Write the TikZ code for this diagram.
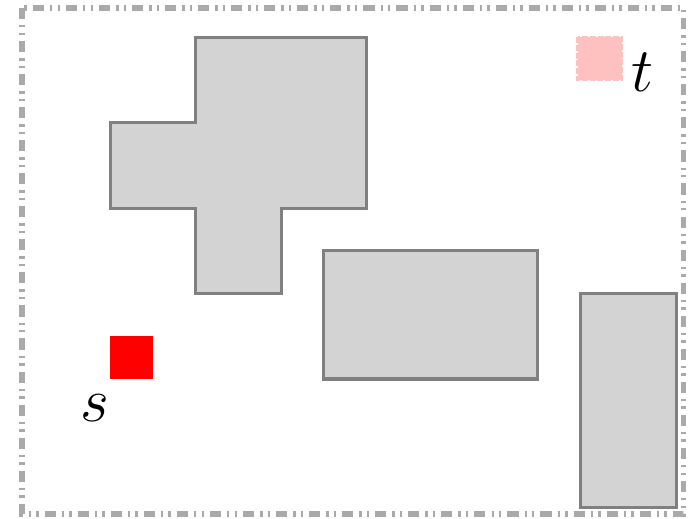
\documentclass[tikz,border=0pt]{standalone}
\usepackage{amsmath,amssymb}
\usepackage{tikz}
\usetikzlibrary{positioning}
\definecolor{obstgray}{HTML}{D3D3D3}
\definecolor{obstedge}{HTML}{808080}
\definecolor{framegray}{HTML}{AAAAAA}
\definecolor{goalpink}{HTML}{FFC0C0}

\begin{document}
\begin{tikzpicture}[x=1cm,y=1cm,
    obstacle/.style={fill=obstgray,draw=obstedge,line width=1pt},
    label/.style={inner sep=0pt,font=\fontsize{20}{24}\selectfont}]
        \useasboundingbox (-1.287,0.433) rectangle (6.889,-5.626);
        \draw[framegray,line width=1.8pt,dash pattern=on 3.7pt off 2pt on 0.8pt off 1.7pt on 0.8pt off 2pt]
          (-1.03,0.34) rectangle (6.71,-5.58);
        % obstacles
        \draw[obstacle] (1,0)--(3,0)--(3,-2)--(2,-2)--(2,-3)--(1,-3)--(1,-2)--(0,-2)--(0,-1)--(1,-1)--cycle;
        \draw[obstacle] (2.5,-2.5) rectangle (5,-4);
        \draw[obstacle] (5.5,-3) rectangle (6.63,-5.5);
        % start and goal
        \fill[red] (0,-3.5) rectangle (0.5,-4);
        \draw[goalpink,fill=goalpink,line width=0.8pt,dash pattern=on 2pt off 0.6pt] (5.47,0) rectangle (5.99,-0.5);
        \node[label] (s) at (-0.175,-4.34) {$s$};
        \node[label] (t) at (6.23,-0.41) {$t$};
      \end{tikzpicture}
\end{document}
